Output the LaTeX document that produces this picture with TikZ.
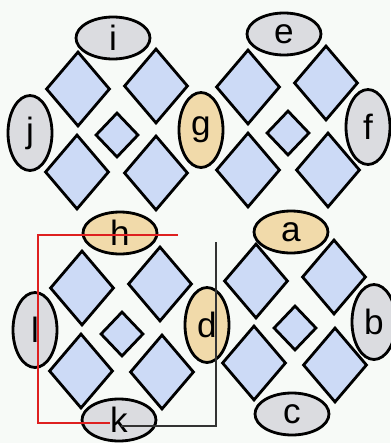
\documentclass[tikz,border=0pt]{standalone}
\usepackage{fontspec}
\setmainfont{Liberation Sans}
\usepackage{tikz}
\usetikzlibrary{shapes.geometric, positioning, calc}

\definecolor{tileblue}{RGB}{204,218,246}
\definecolor{sandtan}{RGB}{241,218,170}
\definecolor{stonegray}{RGB}{219,220,224}
\definecolor{paper}{RGB}{247,250,247}
\definecolor{wirered}{RGB}{222,32,32}

\begin{document}
\begin{tikzpicture}[
        x=0.02cm, y=-0.02cm,
        tile/.style={diamond, draw=black, line width=1.6pt, fill=tileblue, inner sep=0pt, minimum width=1.28cm, minimum height=1.5cm},
        smalltile/.style={tile, minimum width=0.86cm, minimum height=0.9cm},
        flat/.style={ellipse, draw=black, line width=1.6pt, inner sep=0pt, minimum width=1.48cm, minimum height=0.84cm, font=\fontsize{20}{22}\selectfont},
        upright/.style={flat, minimum width=0.88cm, minimum height=1.5cm},
        grayed/.style={fill=stonegray},
        tanned/.style={fill=sandtan},
        redwire/.style={draw=wirered, line width=1.2pt},
        blackwire/.style={draw=black!80, line width=0.8pt}
    ]
        \fill[paper] (0,0) rectangle (390,443);
        \useasboundingbox (0,0) rectangle (390,443);

        % top left group
        \node[tile] (tlA) at (78,89) {};
        \node[tile] (tlB) at (156,86) {};
        \node[smalltile] (tlC) at (117,135) {};
        \node[tile] (tlD) at (77,172) {};
        \node[tile] (tlE) at (156,173) {};
        \node[flat, grayed] (i) at (113,38) {i};
        \node[upright, grayed] (j) at (30,133) {j};
        \node[upright, tanned] (g) at (201,130) {g};

        % top right group
        \node[tile] (trA) at (248,87) {};
        \node[tile] (trB) at (326,83) {};
        \node[smalltile] (trC) at (288,133) {};
        \node[tile] (trD) at (248,170) {};
        \node[tile] (trE) at (328,170) {};
        \node[flat, grayed] (e) at (284,34) {e};
        \node[upright, grayed] (f) at (368,127) {f};

        % bottom left group
        \node[tile] (blA) at (82,288) {};
        \node[tile] (blB) at (160,284) {};
        \node[smalltile] (blC) at (122,334) {};
        \node[tile] (blD) at (81,371) {};
        \node[tile] (blE) at (162,372) {};
        \node[flat, tanned] (h) at (120,233) {h};
        \node[upright, grayed] (l) at (35,330) {l};
        \node[flat, grayed] (k) at (119,420) {k};
        \node[upright, tanned] (d) at (207,325) {d};

        % bottom right group
        \node[tile] (brA) at (256,281) {};
        \node[tile] (brB) at (334,277) {};
        \node[smalltile] (brC) at (295,328) {};
        \node[tile] (brD) at (254,363) {};
        \node[tile] (brE) at (335,365) {};
        \node[flat, tanned] (a) at (291,232) {a};
        \node[upright, grayed] (b) at (374,322) {b};
        \node[flat, grayed] (c) at (292,414) {c};

        % wires
        \coordinate (redstart) at (178,235);
        \coordinate (redcorner) at (38,235);
        \coordinate (redend) at (110,423);
        \coordinate (blackstart) at (216,242);
        \coordinate (blackend) at (121,426);
        \draw[blackwire] (blackstart) |- (blackend);
        \draw[redwire] (redstart) -- (redcorner) |- (redend);
    \end{tikzpicture}
\end{document}
